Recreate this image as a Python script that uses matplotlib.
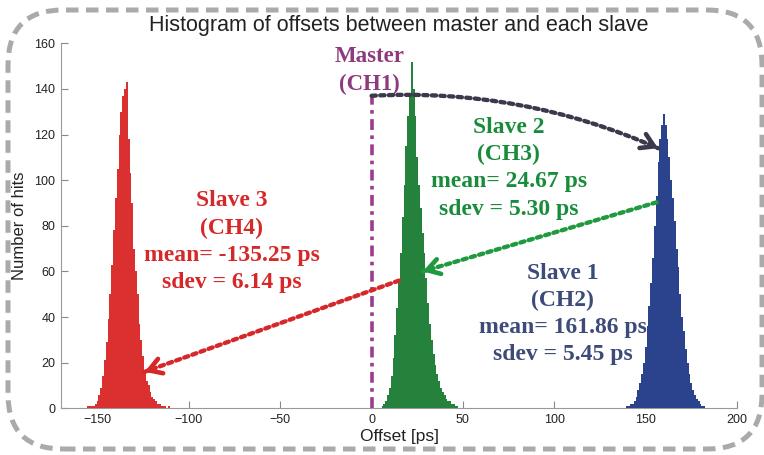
import matplotlib.pyplot as plt
from matplotlib.patches import FancyBboxPatch
from matplotlib.transforms import IdentityTransform

# histogram counts, 1 ps bins (first value = left bin centre)
slave3_x = list(range(-155, -110))
slave3_hits = [1, 1, 1, 1, 2, 3, 6, 9, 14, 21, 29, 39, 50, 63, 78, 92, 105, 120, 130,
               137, 140, 143, 118, 103, 90, 70, 60, 50, 37, 30, 23, 17, 12, 10, 7, 5,
               4, 3, 2, 2, 1, 1, 1, 0, 1]
slave2_x = list(range(6, 48))
slave2_hits = [1, 2, 3, 6, 9, 14, 22, 32, 44, 56, 68, 84, 98, 115, 128, 137, 152, 140,
               128, 110, 98, 88, 77, 68, 57, 46, 37, 30, 24, 19, 15, 12, 9, 7, 6, 4,
               3, 3, 2, 2, 1, 1]
slave1_x = list(range(140, 183))
slave1_hits = [1, 1, 2, 2, 3, 5, 8, 11, 15, 20, 27, 36, 45, 55, 66, 80, 93, 108, 118,
               124, 129, 124, 118, 110, 100, 92, 82, 70, 62, 50, 40, 34, 26, 20, 15,
               11, 8, 6, 4, 3, 2, 1, 1]

x_ticks = [-150, -100, -50, 0, 50, 100, 150, 200]
y_ticks = [0, 20, 40, 60, 80, 100, 120, 140, 160]

serif = 'Liberation Serif'
sans = 'Liberation Sans'

fig = plt.figure(figsize=(7.64, 4.55), dpi=100)
ax = fig.add_axes([61/764, 46.7/455, 676/764, 365/455])

for xs, hits, col in [(slave3_x, slave3_hits, '#DA3030'),
                      (slave2_x, slave2_hits, '#24823C'),
                      (slave1_x, slave1_hits, '#2A438C')]:
    edges = [x - 0.5 for x in xs] + [xs[-1] + 0.5]
    ax.stairs(hits, edges, fill=True, color=col, lw=0, zorder=3)

ax.set_xlim(-170, 200)
ax.set_ylim(0, 160)
ax.set_xticks(x_ticks)
ax.set_yticks(y_ticks)
ax.set_xticklabels([str(t).replace('-', '\u2212') for t in x_ticks], family=sans)
ax.set_yticklabels([str(t) for t in y_ticks], family=sans)
ax.tick_params(direction='in', length=5, labelsize=9, width=0.8,
               color='#888888', labelcolor='#222222', pad=4)
for s in ['top', 'right']:
    ax.spines[s].set_visible(False)
for s in ['left', 'bottom']:
    ax.spines[s].set_color('#999999')

ax.set_title('Histogram of offsets between master and each slave',
             family=sans, fontsize=15.5, pad=9, color='#222222')
ax.set_xlabel('Offset [ps]', family=sans, fontsize=12.5, labelpad=2, color='#222222')
ax.set_ylabel('Number of hits', family=sans, fontsize=12, labelpad=5, color='#222222')

# master line
ax.plot([0, 0], [0, 137], color='#9C3C8E', lw=2.6, ls=(0, (3, 1.5, 1, 1.5)), zorder=4)
ax.text(-1, 148.1, 'Master\n(CH1)', color='#8E3A7E', family=serif, fontweight='bold',
        fontsize=16.5, ha='center', va='center', linespacing=1.38)


def dotted_arrow(start, end, color, rad=0.0, head_from=None):
    ax.annotate('', xy=end, xytext=start,
                arrowprops=dict(arrowstyle='-', color=color, lw=3.1, ls=(0, (1, 1)),
                                connectionstyle='arc3,rad=%s' % rad,
                                shrinkA=0, shrinkB=0), zorder=5)
    ax.annotate('', xy=end, xytext=head_from,
                arrowprops=dict(arrowstyle='->,head_length=0.9,head_width=0.55',
                                color=color, lw=3.3, shrinkA=0, shrinkB=0), zorder=5)


dotted_arrow((0, 137), (156.8, 114), '#3A3A4C', rad=-0.12, head_from=(152, 115.8))
dotted_arrow((156, 90.3), (28, 60), '#1F9A3E', head_from=(33, 61.2))
dotted_arrow((15, 56), (-124.2, 16), '#D62828', head_from=(-119, 17.5))

ax.text(75, 105.2, 'Slave 2\n(CH3)\nmean= 24.67 ps\nsdev = 5.30 ps',
        color='#198C3C', family=serif, fontweight='bold', fontsize=17,
        ha='center', va='center', linespacing=1.38, zorder=6)
ax.text(-76.5, 73.1, 'Slave 3\n(CH4)\nmean= -135.25 ps\nsdev = 6.14 ps',
        color='#D62828', family=serif, fontweight='bold', fontsize=17,
        ha='center', va='center', linespacing=1.38, zorder=6)
ax.text(104.5, 41.3, 'Slave 1\n(CH2)\nmean= 161.86 ps\nsdev = 5.45 ps',
        color='#3C4B78', family=serif, fontweight='bold', fontsize=17,
        ha='center', va='center', linespacing=1.38, zorder=6)

# dashed rounded frame around everything (pixel coordinates)
frame = FancyBboxPatch((8, 6), 754, 439, boxstyle='round,pad=0,rounding_size=55',
                       transform=IdentityTransform(), fill=False,
                       edgecolor='#AAAAAA', lw=3.6, ls=(0, (2.5, 1.5)))
fig.patches.append(frame)

fig.savefig('out.png', dpi=100)
